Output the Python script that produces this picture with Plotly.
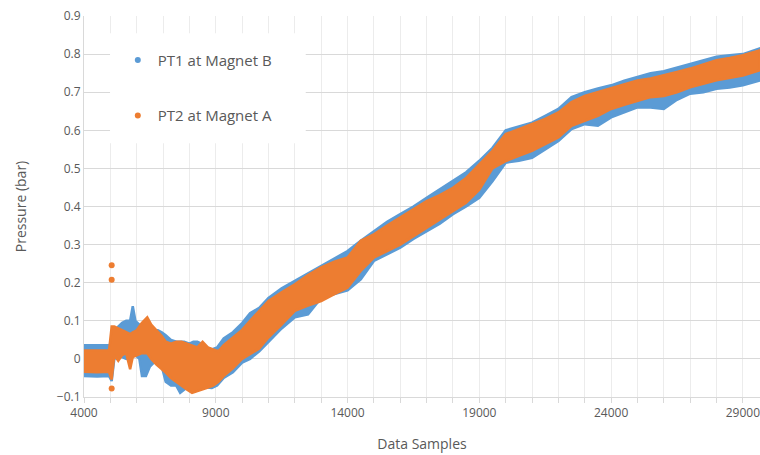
import plotly.graph_objects as go

# ---- data (upper / lower envelope of each dense scatter band) ----
pt1_x = [4000, 4500, 4950, 5050, 5150, 5300, 5450, 5600, 5750, 5850, 5950, 6100, 6200, 6350, 6500,
         6650, 6800, 6950, 7100, 7300, 7500, 7650, 7800, 8000, 8150, 8300, 8450, 8650, 8850, 9050,
         9300, 9650, 10000, 10300, 10650, 11000, 11500, 12000, 12500, 13000, 13500, 14000, 14500,
         15000, 15500, 16000, 16500, 17000, 17500, 18000, 18500, 19000, 19500, 20000, 20500, 21000,
         21500, 22000, 22500, 23000, 23500, 24000, 24500, 25000, 25500, 26000, 26500, 27000, 27500,
         28000, 28500, 29000, 29650]
pt1_high = [0.036, 0.036, 0.036, 0.04, 0.07, 0.085, 0.095, 0.10, 0.10, 0.138, 0.10, 0.09, 0.09, 0.085, 0.08,
            0.076, 0.075, 0.07, 0.062, 0.05, 0.045, 0.045, 0.045, 0.04, 0.045, 0.045, 0.04, 0.03, 0.025, 0.03,
            0.054, 0.07, 0.094, 0.12, 0.134, 0.16, 0.185, 0.205, 0.225, 0.244, 0.265, 0.283, 0.31,
            0.336, 0.36, 0.38, 0.40, 0.423, 0.445, 0.467, 0.49, 0.52, 0.554, 0.60, 0.61, 0.62,
            0.638, 0.656, 0.687, 0.70, 0.71, 0.718, 0.73, 0.74, 0.75, 0.755, 0.765, 0.775, 0.785,
            0.793, 0.797, 0.80, 0.815]
pt1_low = [-0.045, -0.046, -0.045, -0.058, 0.0, 0.005, 0.005, 0.0, 0.005, 0.01, 0.01, 0.0, -0.045, -0.045, -0.02,
           -0.01, -0.01, -0.02, -0.06, -0.07, -0.07, -0.089, -0.08, -0.07, -0.065, -0.07, -0.07, -0.075, -0.076, -0.07,
           -0.05, -0.035, -0.01, 0.0, 0.02, 0.045, 0.08, 0.109, 0.117, 0.16, 0.17, 0.18, 0.209,
           0.257, 0.275, 0.292, 0.315, 0.336, 0.355, 0.38, 0.40, 0.423, 0.466, 0.515, 0.52, 0.528,
           0.55, 0.572, 0.603, 0.616, 0.612, 0.634, 0.648, 0.66, 0.66, 0.656, 0.68, 0.696, 0.70,
           0.709, 0.712, 0.718, 0.731]

pt2_x = [4000, 4500, 4950, 5050, 5150, 5300, 5450, 5600, 5750, 5850, 6000, 6200, 6400, 6550, 6750,
         6950, 7100, 7300, 7500, 7700, 7900, 8100, 8300, 8500, 8700, 8900, 9100, 9300, 9650, 10000,
         10300, 10650, 11000, 11500, 12000, 12500, 13000, 13500, 14000, 14500, 15000, 15500, 16000,
         16500, 17000, 17500, 18000, 18500, 19000, 19500, 20000, 20500, 21000, 21500, 22000, 22500,
         23000, 23500, 24000, 24500, 25000, 25500, 26000, 26500, 27000, 27500, 28000, 28500, 29000,
         29650]
pt2_high = [0.022, 0.022, 0.022, 0.085, 0.085, 0.08, 0.076, 0.07, 0.065, 0.07, 0.075, 0.095, 0.109, 0.09, 0.075,
            0.06, 0.045, 0.04, 0.045, 0.045, 0.04, 0.036, 0.03, 0.045, 0.03, 0.025, 0.02, 0.036, 0.055, 0.076,
            0.10, 0.125, 0.152, 0.175, 0.196, 0.22, 0.24, 0.255, 0.266, 0.31, 0.327, 0.35, 0.371,
            0.392, 0.414, 0.43, 0.449, 0.475, 0.51, 0.546, 0.59, 0.603, 0.616, 0.63, 0.647, 0.674,
            0.69, 0.70, 0.709, 0.72, 0.731, 0.736, 0.744, 0.753, 0.762, 0.773, 0.784, 0.79, 0.797,
            0.81]
pt2_low = [-0.034, -0.035, -0.034, -0.054, 0.01, -0.005, 0.01, 0.015, -0.027, 0.005, 0.01, 0.015, 0.015, 0.0, -0.015,
           -0.027, -0.036, -0.05, -0.062, -0.07, -0.08, -0.089, -0.085, -0.08, -0.075, -0.07, -0.06, -0.045, -0.025, 0.0,
           0.012, 0.027, 0.056, 0.09, 0.126, 0.14, 0.152, 0.17, 0.187, 0.231, 0.266, 0.283, 0.30,
           0.322, 0.345, 0.365, 0.388, 0.41, 0.444, 0.50, 0.519, 0.533, 0.546, 0.563, 0.581, 0.612,
           0.625, 0.638, 0.656, 0.667, 0.678, 0.687, 0.69, 0.70, 0.713, 0.722, 0.731, 0.737, 0.744,
           0.758]

pt2_outlier_x = [5050, 5050, 5050]
pt2_outlier_y = [0.246, 0.208, -0.078]

x_ticks = [4000, 9000, 14000, 19000, 24000, 29000]

BLUE = "#5B9BD5"
ORANGE = "#ED7D31"
TXT = "#595959"
FONT = "Open Sans"

fig = go.Figure()

def band(xs, hi, lo, color):
    return go.Scatter(
        x=xs + xs[::-1], y=hi + lo[::-1], mode="lines", fill="toself",
        fillcolor=color, line=dict(color=color, width=2.5, shape="linear"),
        showlegend=False, hoverinfo="skip")

fig.add_trace(band(pt1_x, pt1_high, pt1_low, BLUE))
fig.add_trace(band(pt2_x, pt2_high, pt2_low, ORANGE))
fig.add_trace(go.Scatter(x=pt2_outlier_x, y=pt2_outlier_y, mode="markers",
                         marker=dict(color=ORANGE, size=6), showlegend=False))

# legend entries
fig.add_trace(go.Scatter(x=[None], y=[None], mode="markers", name="PT1 at Magnet B",
                         marker=dict(color=BLUE, size=6), legendgroup="a"))
fig.add_trace(go.Scatter(x=[None], y=[None], mode="markers", name="PT2 at Magnet A",
                         marker=dict(color=ORANGE, size=6), legendgroup="b"))

fig.add_shape(type="rect", xref="paper", yref="paper",
              x0=0.0385, x1=0.328, y0=0.666, y1=0.955,
              fillcolor="white", line=dict(width=0), layer="above")

fig.update_layout(
    width=760, height=455,
    margin=dict(l=84, r=0, t=16, b=58),
    paper_bgcolor="white", plot_bgcolor="white",
    font=dict(family=FONT, color=TXT, size=12),
    showlegend=True,
    legend=dict(x=0.05, y=0.927, xanchor="left", yanchor="top",
                bgcolor="rgba(0,0,0,0)", font=dict(size=15, color=TXT, family=FONT),
                traceorder="grouped", tracegroupgap=33, itemsizing="trace"),
    xaxis=dict(
        range=[4000, 29650], tickvals=x_ticks, ticktext=[str(v) for v in x_ticks],
        showgrid=True, gridcolor="#ececec", gridwidth=1,
        minor=dict(dtick=1000, tick0=4000, showgrid=True, gridcolor="#ececec",
                   ticks="outside", ticklen=5, tickcolor="#d9d9d9"),
        ticks="outside", ticklen=5, tickcolor="#d9d9d9",
        showline=True, linecolor="#d9d9d9", linewidth=1,
        zeroline=False, tickfont=dict(size=12, color=TXT),
        ticklabeloverflow="allow",
        title=dict(text="Data Samples", font=dict(size=14, color=TXT), standoff=18),
    ),
    yaxis=dict(
        range=[-0.1, 0.9], dtick=0.1, tick0=0, tickformat="~g",
        showgrid=True, gridcolor="#d9d9d9", gridwidth=1,
        showline=True, linecolor="#d9d9d9", zeroline=False,
        ticks="", tickfont=dict(size=12, color=TXT),
        title=dict(text="Pressure (bar)", font=dict(size=14, color=TXT), standoff=26),
    ),
)

fig.write_html("out.html")
